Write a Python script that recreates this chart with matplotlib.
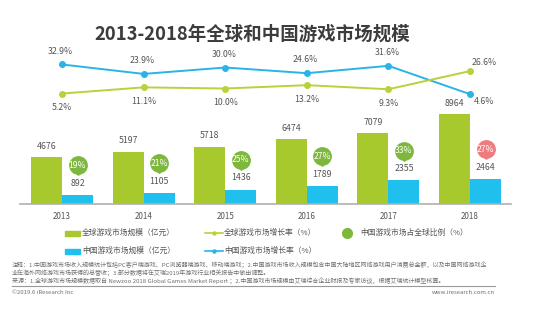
import matplotlib
matplotlib.use('Agg')
import matplotlib.pyplot as plt
from matplotlib.transforms import offset_copy
from matplotlib.lines import Line2D
from matplotlib.patches import Rectangle

plt.rcParams['font.family'] = ['Noto Sans CJK SC', 'DejaVu Sans']

years = ['2013', '2014', '2015', '2016', '2017', '2018']
global_size = [4676, 5197, 5718, 6474, 7079, 8964]      # 亿元
china_size = [892, 1105, 1436, 1789, 2355, 2464]        # 亿元
global_growth = [5.2, 11.1, 10.0, 13.2, 9.3, 26.6]      # %
china_growth = [32.9, 23.9, 30.0, 24.6, 31.6, 4.6]      # %
china_share = [19, 21, 25, 27, 33, 27]                  # %

green_bar = '#a8c92e'
blue_bar = '#20c0ee'
green_line = '#b6d33c'
blue_line = '#2ab4e6'
bubble_cols = ['#7db83c'] * 5 + ['#f07a7e']
txt = '#555555'

W, H = 549, 321
fig = plt.figure(figsize=(W / 100, H / 100), dpi=100)
fig.patch.set_facecolor('white')

ax = fig.add_axes([20 / W, 117 / H, 491 / W, 164 / H])
ax.set_xlim(-0.515, 5.502)
ax.set_ylim(0, 16400)
for s in ['top', 'right', 'left']:
    ax.spines[s].set_visible(False)
ax.spines['bottom'].set_color('#b0b0b0')
ax.spines['bottom'].set_linewidth(1.2)
ax.set_yticks([])
x = list(range(len(years)))
ax.set_xticks(x, years)
ax.tick_params(axis='x', length=0, pad=6, labelsize=5.8, labelcolor=txt)

bw = 0.38
ax.bar(x, global_size, width=-bw, align='edge', color=green_bar)
ax.bar(x, china_size, width=bw, align='edge', color=blue_bar)

up = lambda pts: offset_copy(ax.transData, fig=fig, x=0, y=pts, units='points')
for i in x:
    ax.text(i - bw / 2, global_size[i], str(global_size[i]), ha='center', va='center',
            fontsize=6.3, color=txt, transform=up(8))
    bx = i + bw / 2
    ax.text(bx, china_size[i], str(china_size[i]), ha='center', va='center',
            fontsize=6.3, color=txt, transform=up(8.5))
    ax.plot([bx], [china_size[i]], marker='v', ms=5, color=bubble_cols[i],
            transform=up(16.5), clip_on=False)
    ax.plot([bx], [china_size[i]], marker='o', ms=12.5, color=bubble_cols[i],
            transform=up(21.5), clip_on=False)
    ax.text(bx, china_size[i], f'{china_share[i]}%', ha='center', va='center',
            fontsize=6.2, color='white', transform=up(21.5))

ax2 = ax.twinx()
ax2.set_ylim(-100, 56.2)
ax2.axis('off')
ax2.plot(x, china_growth, color=blue_line, lw=1.4, marker='o', ms=4)
ax2.plot(x, global_growth, color=green_line, lw=1.4, marker='o', ms=4)
for i in x:
    if i == len(x) - 1:
        ax2.annotate(f'{china_growth[i]:.1f}%', (i, china_growth[i]), xytext=(10, -5),
                     textcoords='offset points', ha='center', va='center', fontsize=6.3, color=txt)
        ax2.annotate(f'{global_growth[i]:.1f}%', (i, global_growth[i]), xytext=(10, 6),
                     textcoords='offset points', ha='center', va='center', fontsize=6.3, color=txt)
    else:
        ax2.annotate(f'{china_growth[i]:.1f}%', (i, china_growth[i]), xytext=(-1, 9.5),
                     textcoords='offset points', ha='center', va='center', fontsize=6.3, color=txt)
        ax2.annotate(f'{global_growth[i]:.1f}%', (i, global_growth[i]), xytext=(0, -10),
                     textcoords='offset points', ha='center', va='center', fontsize=6.3, color=txt)

fig.text(252 / W, 1 - 34 / H, '2013-2018年全球和中国游戏市场规模', ha='center', va='center',
         fontsize=13.3, fontweight='bold', color='#3c3c3c')

# legend
fy = lambda ypx: 1 - ypx / H
fx = lambda xpx: xpx / W
legend_fs = 5.6
for ypx, col, lab in [(233, green_bar, '全球游戏市场规模（亿元）'), (251, blue_bar, '中国游戏市场规模（亿元）')]:
    fig.add_artist(Rectangle((fx(65), fy(ypx + 2.5)), 15 / W, 5 / H, color=col, transform=fig.transFigure))
    fig.text(fx(82), fy(ypx), lab, fontsize=legend_fs, color=txt, va='center')
for ypx, col, lab in [(233, green_line, '全球游戏市场增长率（%）'), (251, blue_line, '中国游戏市场增长率（%）')]:
    fig.add_artist(Line2D([fx(205), fx(223)], [fy(ypx), fy(ypx)], color=col, lw=1.2,
                          transform=fig.transFigure))
    fig.add_artist(Line2D([fx(214)], [fy(ypx)], color=col, marker='o', ms=2.2, transform=fig.transFigure))
    fig.text(fx(224), fy(ypx), lab, fontsize=legend_fs, color=txt, va='center')
fig.add_artist(Line2D([fx(347)], [fy(233)], color=bubble_cols[0], marker='o', ms=7, transform=fig.transFigure))
fig.text(fx(360), fy(233), '中国游戏市场占全球比例（%）', fontsize=legend_fs, color=txt, va='center')

notes = [
    '注释：1.中国游戏市场收入规模统计包括PC客户端游戏、PC浏览器端游戏、移动端游戏；2.中国游戏市场收入规模包含中国大陆地区网络游戏用户消费总金额，以及中国网络游戏企',
    '业在海外网络游戏市场获得的总营收；3.部分数据将在艾瑞2019年游戏行业相关报告中做出调整。',
    '来源：1.全球游戏市场规模数据取自 Newzoo 2018 Global Games Market Report ；2.中国游戏市场规模由艾瑞综合企业财报及专家访谈，根据艾瑞统计模型核算。',
]
for k, line in enumerate(notes):
    fig.text(fx(12), fy(265 + 7.8 * k), line, fontsize=4.35, color='#707070', va='center')
fig.add_artist(Line2D([fx(12), fx(495)], [fy(286), fy(286)], color='#999999', lw=0.8,
                      transform=fig.transFigure))
fig.text(fx(12), fy(293), '©2019.6 iResearch Inc', fontsize=4.3, color='#707070', va='center')
fig.text(fx(495), fy(293), 'www.iresearch.com.cn', fontsize=4.3, color='#707070', va='center', ha='right')

fig.savefig('out.png', dpi=100, facecolor='white')
